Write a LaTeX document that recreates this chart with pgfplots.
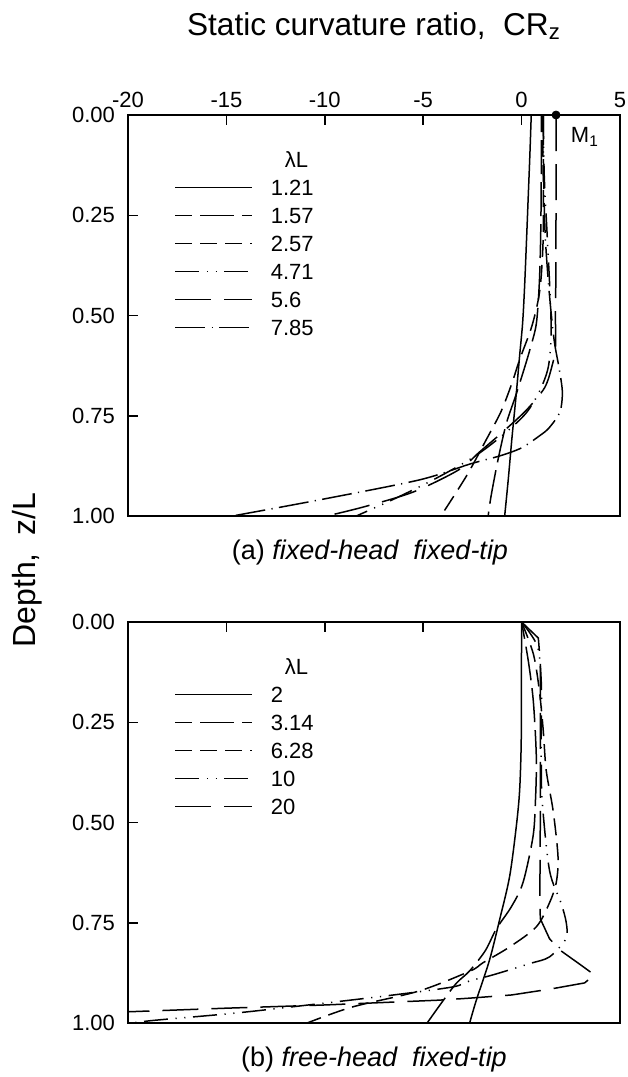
\documentclass[border=0pt]{standalone}
\usepackage{pgfplots}
\pgfplotsset{compat=1.18}
\usepackage{fontspec}
\setmainfont{Liberation Sans}

\tikzset{
 sA/.style={line width=0.75pt, solid},
 sB/.style={line width=0.75pt, dash pattern=on 17pt off 4pt, dash phase=8.5pt},
 sC/.style={line width=0.75pt, dash pattern=on 8.5pt off 4pt},
 sD/.style={line width=0.75pt, dash pattern=on 12pt off 3.8pt on 0.6pt off 3.8pt on 0.6pt off 3.8pt},
 sE/.style={line width=0.75pt, dash pattern=on 18pt off 6.5pt},
 sF/.style={line width=0.75pt, dash pattern=on 15pt off 3.2pt on 0.6pt off 3.2pt},
}

\pgfplotsset{panel/.style={
  scale only axis, width=246pt, height=200.5pt,
  xmin=-20, xmax=5, ymin=0, ymax=1, y dir=reverse,
  xtick={-20,-15,-10,-5,0,5},
  ytick={0,0.25,0.5,0.75,1},
  yticklabels={0.00,0.25,0.50,0.75,1.00},
  xtick pos=right, ytick pos=left,
  tick align=inside, major tick length=5pt,
  axis line style={line width=0.75pt},
  tick style={line width=0.75pt, black},
  tick label style={font=\fontsize{11}{13}\selectfont},
  yticklabel style={xshift=-3pt},
  clip=false,
  legend cell align=left,
  legend style={draw=none, fill=none, anchor=north west,
    at={(axis description cs:0.0813,0.92)},
    font=\fontsize{11}{13}\selectfont,
    nodes={inner sep=0pt, text height=8pt, text depth=0pt},
    row sep=6pt, column sep=0pt,
    /tikz/every odd column/.append style={column sep=9pt}},
  legend image code/.code={\draw[#1] (0pt,0pt) -- (38.5pt,0pt);},
  every axis plot/.append style={black},
}}

\begin{document}
\begin{tikzpicture}
\path[use as bounding box] (0,0) rectangle (313.5pt,-538.5pt);

% ---------------- panel (a) ----------------
\begin{axis}[panel, at={(64pt,-57.5pt)}, anchor=north west,
  xticklabels={-20,-15,-10,-5,0,5}, xticklabel pos=right]
\addlegendimage{empty legend}
\addlegendentry{\hspace{7pt}λL}
\addplot[sA, smooth] coordinates {(0.49,0) (0.42,0.1) (0.34,0.2) (0.26,0.3) (0.15,0.43) (0.05,0.52) (-0.1,0.6) (-0.28,0.7) (-0.48,0.8) (-0.68,0.91) (-0.86,1.0)};
\addlegendentry{1.21}
\addplot[sB, smooth] coordinates {(1.0,0) (1.0,0.15) (0.97,0.3) (0.9,0.42) (0.75,0.52) (0.45,0.58) (0.15,0.63) (-0.3,0.7) (-0.78,0.77) (-1.2,0.86) (-1.55,0.95) (-1.7,1.0)};
\addlegendentry{1.57}
\addplot[sC, smooth] coordinates {(1.05,0) (1.1,0.15) (1.1,0.3) (1.0,0.4) (0.85,0.46) (0.5,0.53) (-0.1,0.61) (-0.5,0.67) (-1.05,0.74) (-1.8,0.81) (-2.8,0.9) (-4.1,1.0)};
\addlegendentry{2.57}
\addplot[sD, smooth] coordinates {(1.1,0) (1.15,0.15) (1.3,0.3) (1.45,0.45) (1.5,0.55) (1.35,0.63) (0.9,0.69) (0.2,0.745) (-1.0,0.8) (-2.5,0.855) (-4.5,0.91) (-6.5,0.958) (-8.4,1.0)};
\addlegendentry{4.71}
\addplot[sE, smooth] coordinates {(1.75,0) (1.75,0.2) (1.74,0.4) (1.72,0.5) (1.72,0.58) (1.55,0.625) (1.17,0.68) (0.24,0.736) (-0.95,0.79) (-2.13,0.84) (-3.2,0.885) (-5.5,0.94) (-8,0.977) (-9.9,1.0)};
\addlegendentry{5.6}
\addplot[sF, smooth] coordinates {(1.1,0) (1.12,0.15) (1.2,0.3) (1.4,0.44) (1.65,0.56) (1.9,0.63) (2.07,0.69) (1.95,0.74) (1.4,0.78) (0.91,0.80) (0.0,0.83) (-1.1,0.85) (-2.6,0.87) (-5.2,0.91) (-10.3,0.96) (-14.7,1.0)};
\addlegendentry{7.85}
\addplot[only marks, mark=*, mark size=2pt, forget plot] coordinates {(1.75,0)};
\node[anchor=west, font=\fontsize{11}{13}\selectfont] at (axis cs:2.15,0.055) {M\textsubscript{1}};
\end{axis}

% ---------------- panel (b) ----------------
\begin{axis}[panel, at={(64pt,-311pt)}, anchor=north west,
  xticklabels={}]
\addlegendimage{empty legend}
\addlegendentry{\hspace{7pt}λL}
\addplot[sA, smooth] coordinates {(0,0) (-0.01,0.15) (-0.02,0.3) (-0.1,0.42) (-0.27,0.51) (-0.61,0.635) (-1.12,0.743) (-1.63,0.843) (-2.3,0.943) (-2.64,1.0)};
\addlegendentry{2}
\addplot[sB, smooth] coordinates {(0,0) (0.35,0.1) (0.6,0.2) (0.75,0.34) (0.7,0.45) (0.58,0.535) (0.07,0.65) (-0.52,0.71) (-1.28,0.765) (-1.85,0.82) (-2.64,0.87) (-3.3,0.9) (-4.0,0.945) (-4.8,1.0)};
\addlegendentry{3.14}
\addplot[sC, smooth] coordinates {(0,0) (0.6,0.08) (0.9,0.17) (1.1,0.27) (1.25,0.37) (1.6,0.47) (1.85,0.585) (1.76,0.65) (1.42,0.70) (0.75,0.76) (-0.6,0.81) (-1.97,0.85) (-2.6,0.87) (-5.2,0.92) (-8.6,0.96) (-10.9,1.0)};
\addlegendentry{6.28}
\addplot[sD, smooth] coordinates {(0,0) (0.8,0.06) (1.0,0.15) (1.0,0.25) (1.0,0.35) (1.05,0.45) (1.42,0.62) (2.0,0.70) (2.27,0.75) (2.25,0.79) (1.42,0.835) (0.4,0.852) (-1.46,0.88) (-2.64,0.895) (-3.5,0.91) (-6.5,0.93) (-10.3,0.952) (-14.5,0.975) (-18.6,0.993) (-19.8,1.0)};
\addlegendentry{10}
\addplot[sE] coordinates {(0,0) (0.85,0.04) (0.95,0.1) (0.95,0.3) (0.95,0.5) (0.93,0.67) (0.95,0.74) (1.42,0.79) (2.0,0.82) (3.0,0.855) (3.7,0.88) (3.2,0.90) (1.5,0.915) (-0.5,0.93) (-2.64,0.938) (-4.2,0.943) (-10,0.955) (-15,0.963) (-20,0.972)};
\addlegendentry{20}
\end{axis}

% titles and captions
\node[font=\fontsize{15.8}{19}\selectfont] at (187pt,-13pt) {Static curvature ratio,\ \ CR\textsubscript{z}};
\node[rotate=90, font=\fontsize{16}{19}\selectfont] at (13.5pt,-285pt) {Depth,\ \ z/L};
\node[font=\fontsize{13.5}{16}\selectfont] at (185pt,-276.5pt) {(a) \textit{fixed-head\ \ fixed-tip}};
\node[font=\fontsize{13.5}{16}\selectfont] at (187pt,-530pt) {(b) \textit{free-head\ \ fixed-tip}};
\end{tikzpicture}
\end{document}
